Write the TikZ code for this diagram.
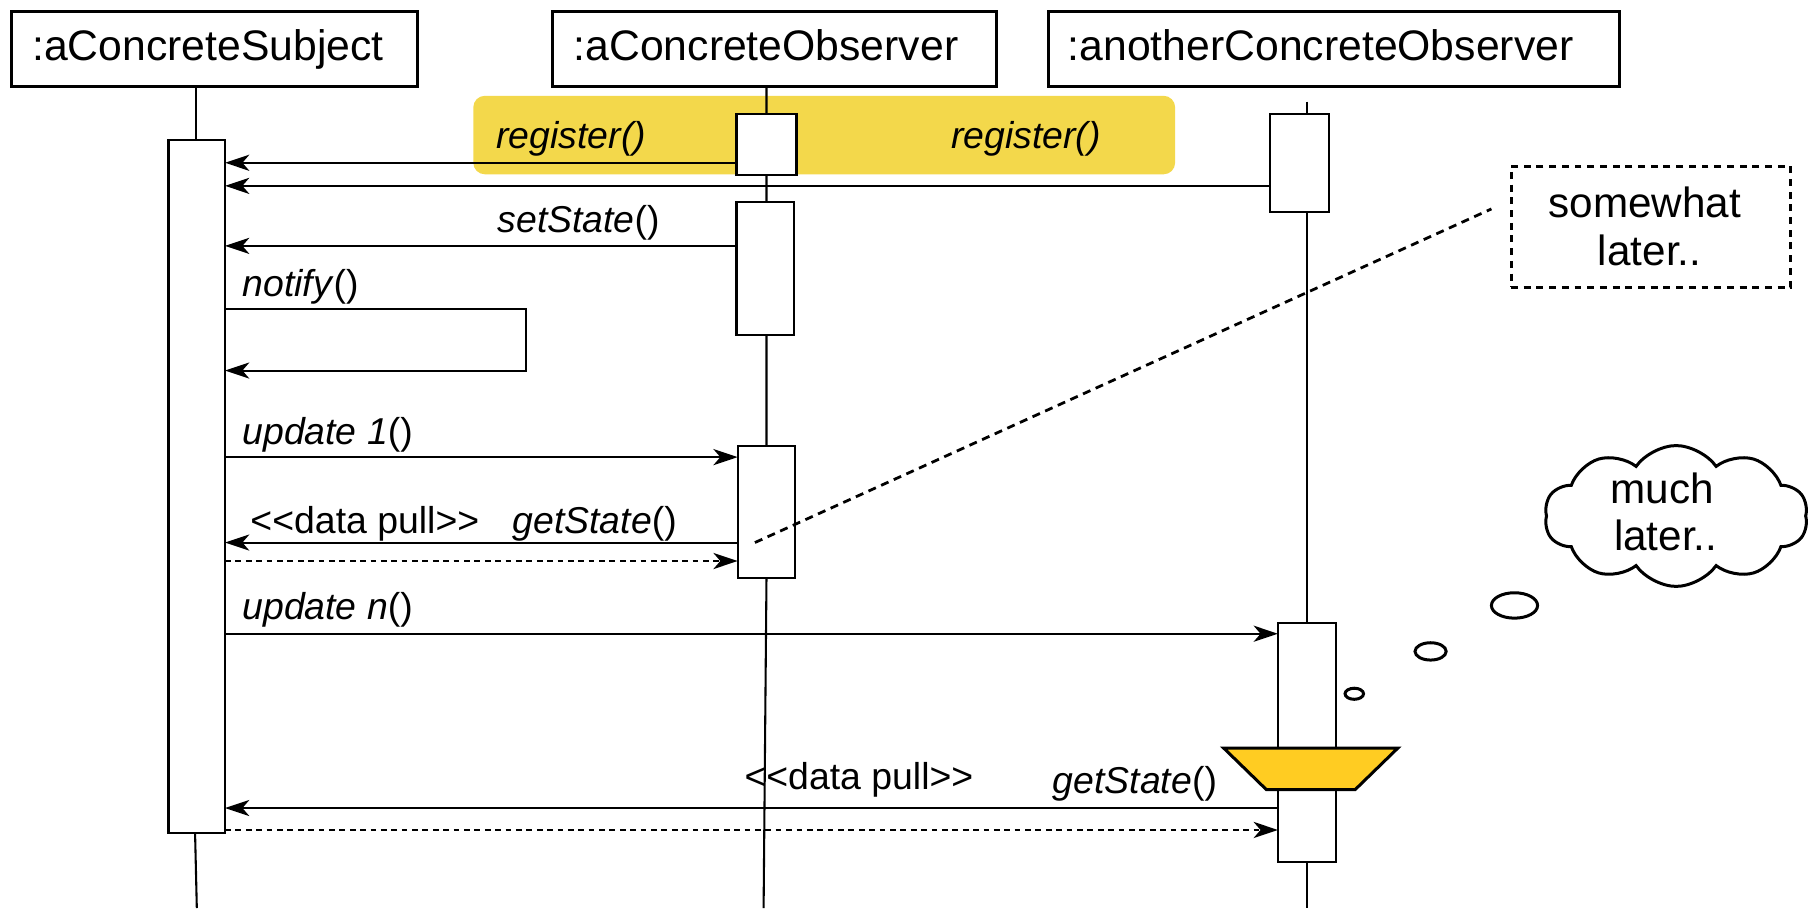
\documentclass[tikz,border=0pt]{standalone}
\usepackage{fontspec}
\setmainfont{Liberation Sans}
\usetikzlibrary{arrows.meta,shapes.symbols,shapes.geometric,fit}
\definecolor{hlyellow}{RGB}{243,216,75}
\definecolor{trapyellow}{RGB}{255,204,34}
\begin{document}
\begin{tikzpicture}[x=0.5pt,y=-0.5pt,
  every node/.style={inner sep=0pt,outer sep=0pt},
  headbox/.style={draw,line width=1.3pt},
  hdr/.style={font=\fontsize{18.5}{22}\selectfont,anchor=base west},
  actbox/.style={draw,fill=white,line width=0.9pt},
  life/.style={line width=0.9pt},
  msg/.style={line width=0.9pt,-{Stealth[length=10.5pt,width=7pt,inset=3pt]}},
  ret/.style={msg,dash pattern=on 2.5pt off 2pt},
  lbl/.style={font=\fontsize{16.2}{19}\selectfont,anchor=base west},
  notetxt/.style={font=\fontsize{18.3}{22}\selectfont,anchor=base},
  notebox/.style={draw,line width=1.3pt,dash pattern=on 3pt off 2.5pt},
  bubble/.style={draw,line width=1.3pt,ellipse},
]
\useasboundingbox (0,0) rectangle (1568,786.6);

% highlight
\fill[hlyellow,rounded corners=5pt] (410,83) rectangle (1018,151);

% header boxes
\node[headbox,fit={(10,10)(362,75)}] (H1) {};
\node[headbox,fit={(479,10)(863,75)}] (H2) {};
\node[headbox,fit={(908,10)(1403,75)}] (H3) {};
\node[hdr] (H1t) at (28,52) {:aConcreteSubject};
\node[hdr] (H2t) at (497,52) {:aConcreteObserver};
\node[hdr] (H3t) at (925,52) {:anotherConcreteObserver};

% lifelines
\coordinate (L1a) at (170,75);
\coordinate (L1b) at (170,121);
\coordinate (L1c) at (169,722);
\coordinate (L1d) at (170.5,786.6);
\coordinate (L2a) at (664,75);
\coordinate (L2b) at (664,501);
\coordinate (L2c) at (661.5,786.6);
\coordinate (L3a) at (1132,88);
\coordinate (L3b) at (1132,786.6);
\draw[life] (L1a) -- (L1b);
\draw[life] (L1c) -- (L1d);
\draw[life] (L2a) -- (L2b) -- (L2c);
\draw[life] (L3a) -- (L3b);

% activation boxes
\node[actbox,fit={(146,121)(195,722)}] (A1) {};
\node[actbox,fit={(638,99)(690,152)}] (B1) {};
\node[actbox,fit={(638,175)(688,290)}] (B2) {};
\node[actbox,fit={(639,386)(689,501)}] (B3) {};
\node[actbox,fit={(1100,99)(1151,184)}] (C1) {};
\node[actbox,fit={(1107,540)(1157,747)}] (C2) {};

% messages
\draw[msg] (B1.west |- 0,141) -- (A1.east |- 0,141);
\node[lbl] (m1) at (430,129) {\textit{register()}};
\draw[msg] (C1.west |- 0,161) -- (A1.east |- 0,161);
\node[lbl] (m2) at (824,129) {\textit{register()}};
\draw[msg] (B2.west |- 0,213) -- (A1.east |- 0,213);
\node[lbl] (m3) at (431,201) {\textit{setState}()};
\coordinate (n1) at (456,268);
\coordinate (n2) at (456,321);
\draw[msg] (A1.east |- 0,268) -- (n1) -- (n2) -- (A1.east |- 0,321);
\node[lbl] (m4) at (210,257) {\textit{notify}()};
\draw[msg] (A1.east |- 0,396) -- (B3.west |- 0,396);
\node[lbl] (m5) at (210,385) {\textit{update 1}()};
\draw[msg] (B3.west |- 0,470) -- (A1.east |- 0,470);
\node[lbl] (m6a) at (217,462) {<{}<data pull>{}>};
\node[lbl] (m6b) at (444,462) {\textit{getState}()};
\draw[ret] (A1.east |- 0,486) -- (B3.west |- 0,486);
\draw[msg] (A1.east |- 0,549) -- (C2.west |- 0,549);
\node[lbl] (m7) at (210,537) {\textit{update n}()};
\draw[msg] (C2.west |- 0,700) -- (A1.east |- 0,700);
\node[lbl] (m8a) at (645,684) {<{}<data pull>{}>};
\node[lbl] (m8b) at (912,687) {\textit{getState}()};
\draw[ret] (A1.east |- 0,719) -- (C2.west |- 0,719);

% trapezoid (time break)
\draw[line width=1.3pt,fill=trapyellow,line join=miter]
  (1060,648) -- (1211,648) -- (1174,684) -- (1097,684) -- cycle;

% somewhat later note
\node[notebox,fit={(1309,144)(1551,249)}] (N1) {};
\node[notetxt] (N1a) at (1425,188) {somewhat};
\node[notetxt] (N1b) at (1429,230) {later..};
\coordinate (N1p) at (654,470);
\draw[line width=1.2pt,dash pattern=on 3.5pt off 2.5pt] (N1p) -- (1292,181);

% cloud
\node[cloud,draw,line width=1.3pt,cloud puffs=10,cloud puff arc=110,
  cloud ignores aspect,minimum width=114pt,minimum height=61pt] (CL) at (1452,447) {};
\node[notetxt] (CLa) at (1440,436) {much};
\node[notetxt] (CLb) at (1443,477) {later..};
\node[bubble,minimum width=20pt,minimum height=11pt] (E1) at (1312,524.5) {};
\node[bubble,minimum width=13.5pt,minimum height=7.5pt] (E2) at (1239.3,564.3) {};
\node[bubble,minimum width=8pt,minimum height=4.8pt] (E3) at (1173.2,601) {};
\end{tikzpicture}
\end{document}
